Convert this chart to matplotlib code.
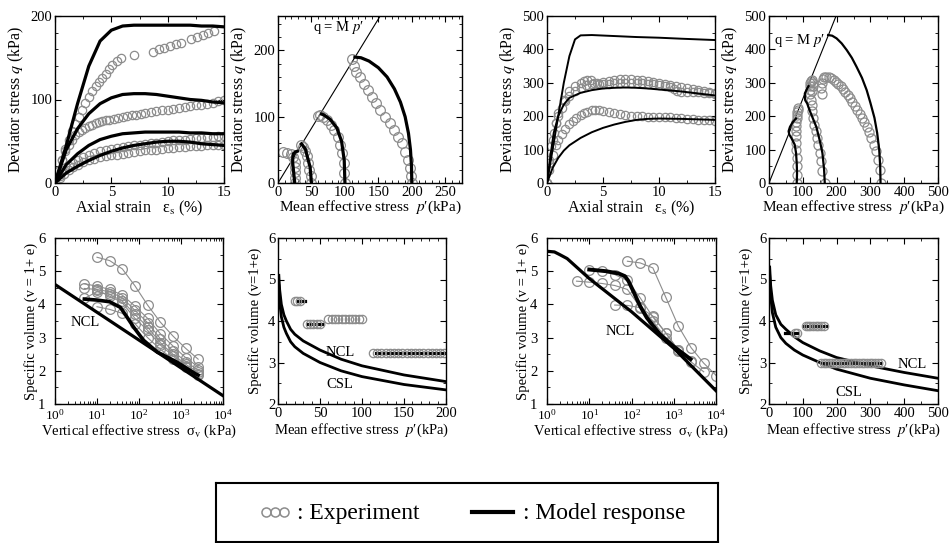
import matplotlib
matplotlib.use('Agg')
import matplotlib.pyplot as plt
from matplotlib.ticker import MultipleLocator, LogLocator, NullFormatter

plt.rcParams['font.family'] = ['Liberation Serif', 'DejaVu Serif']
plt.rcParams['mathtext.fontset'] = 'stix'
plt.rcParams['font.size'] = 10

GRAY = '#8c8c8c'

# ---------- panel 1: q vs axial strain (left soil) ----------
m1_x = [0, 1, 2, 3, 4, 5, 6, 7, 8, 9, 10, 11, 12, 13, 14, 15]
m1_200 = [0, 45, 95, 140, 170, 183, 188, 189, 189, 189, 189, 189, 189, 188, 188, 187]
m1_100 = [0, 40, 65, 83, 95, 102, 106, 107, 107, 106, 104, 102, 100, 99, 97, 96]
m1_50 = [0, 22, 35, 45, 52, 56, 59, 60, 61, 61, 61, 61, 60, 60, 59, 59]
m1_25 = [0, 12, 20, 27, 33, 38, 42, 45, 47, 49, 50, 50, 49, 47, 46, 45]

e1_200_x = [0, 0.3, 0.6, 0.9, 1.2, 1.5, 1.8, 2.1, 2.4, 2.7, 3.0, 3.3, 3.6, 3.9, 4.2, 4.5,
            4.8, 5.1, 5.5, 5.9, 7.0, 8.7, 9.2, 9.7, 10.2, 10.7, 11.2, 12.1, 12.6, 13.1, 13.6, 14.1]
e1_200_q = [0, 14, 28, 41, 52, 62, 71, 79, 88, 96, 103, 110, 116, 121, 126, 131,
            136, 141, 146, 150, 153, 157, 160, 162, 164, 166, 168, 172, 175, 177, 180, 182]
e1_100_x = [0, 0.3, 0.6, 0.9, 1.2, 1.5, 1.8, 2.1, 2.4, 2.7, 3.0, 3.3, 3.6, 3.9, 4.2, 4.5, 4.8,
            5.2, 5.6, 6.0, 6.4, 6.8, 7.2, 7.6, 8.0, 8.5, 9.0, 9.5, 10.0, 10.5, 11.0, 11.5,
            12.0, 12.5, 13.0, 13.5, 14.0, 14.5, 15.0]
e1_100_q = [0, 14, 27, 38, 46, 52, 57, 61, 64, 66, 68, 70, 72, 73, 74, 75, 76,
            77, 78, 79, 80, 81, 82, 83, 84, 85, 86, 87, 88, 89, 90, 91,
            92, 93, 94, 95, 96, 98, 99]
e1_lo_x = [0, 0.4, 0.8, 1.2, 1.6, 2.0, 2.5, 3.0, 3.5, 4.0, 4.5, 5.0, 5.5, 6.0, 6.5, 7.0,
           7.5, 8.0, 8.5, 9.0, 9.5, 10.0, 10.5, 11.0, 11.5, 12.0, 12.5, 13.0, 13.5, 14.0, 14.5, 15.0]
e1_50_q = [0, 8, 15, 20, 24, 28, 31, 34, 36, 38, 40, 41, 42, 43, 44, 45,
           46, 47, 48, 48, 49, 50, 51, 52, 52, 53, 54, 54, 55, 55, 56, 56]
e1_25_q = [0, 6, 11, 15, 19, 22, 25, 27, 29, 31, 32, 33, 34, 35, 36, 37,
           38, 39, 40, 40, 41, 42, 42, 43, 43, 44, 44, 44, 45, 45, 45, 46]

# ---------- panel 2: q vs p' (left soil) ----------
M_left = 1.65
m2_200_p = [200, 199.5, 198, 195, 190, 183, 174, 163, 150, 136, 124, 115]
m2_200_q = [0, 25, 50, 75, 100, 122, 142, 160, 174, 184, 189, 190]
m2_100_p = [100, 99, 95, 88, 78, 68, 65]
m2_100_q = [0, 34, 63, 83, 96, 103, 104]
m2_50_p = [50, 48, 44, 41, 36, 35]
m2_50_q = [0, 24, 39, 51, 58, 59]
m2_25_p = [25, 24, 23, 22, 22, 23, 26, 29]
m2_25_q = [0, 10, 20, 30, 38, 44, 47, 48]

e2_200_p = [200, 199, 197, 194, 190, 185, 180, 174, 168, 160, 153, 147, 141, 135, 128, 122, 117, 113, 110]
e2_200_q = [0, 10, 22, 35, 47, 60, 70, 80, 90, 100, 110, 120, 130, 140, 150, 160, 168, 177, 187]
e2_100_p = [100, 99, 98, 96, 93, 89, 84, 79, 73, 68, 63, 60]
e2_100_q = [0, 15, 30, 45, 58, 70, 80, 88, 95, 99, 102, 101]
e2_50_p = [50, 49, 47, 45, 43, 40, 37, 34]
e2_50_q = [0, 10, 20, 30, 40, 48, 54, 58]
e2_25_p = [25, 25, 26, 26, 25, 23, 19, 13, 8]
e2_25_q = [0, 8, 16, 24, 32, 39, 44, 46, 47]

# ---------- panel 3: q vs axial strain (right soil) ----------
m3_a_x = [0, 0.5, 1, 1.5, 2, 2.5, 3, 4, 6, 8, 10, 12, 15]
m3_a_q = [0, 100, 200, 300, 380, 430, 442, 443, 440, 437, 435, 432, 428]
m3_b_x = [0, 0.3, 0.6, 1, 1.5, 2, 3, 4, 5, 6, 7, 8, 9, 10, 11, 12, 13, 14, 15]
m3_b_q = [0, 80, 150, 200, 235, 255, 270, 278, 283, 285, 286, 285, 283, 280, 277, 274, 270, 266, 262]
m3_c_x = [0, 0.5, 1, 1.5, 2, 3, 4, 5, 6, 7, 8, 9, 10, 12, 15]
m3_c_q = [0, 45, 75, 97, 113, 135, 152, 165, 175, 183, 189, 192, 193, 192, 189]

e3_a_x = [0, 0.2, 0.4, 0.6, 0.8, 1, 1.3, 1.6, 2, 2.5, 3, 3.5, 4, 4.5, 5, 5.5, 6, 6.5, 7, 7.5,
          8, 8.5, 9, 9.5, 10, 10.5, 11, 11.5, 12, 12.5, 13, 13.5, 14, 14.5, 15]
e3_a_q = [0, 60, 110, 150, 180, 200, 225, 245, 260, 275, 285, 292, 297, 300, 303, 306, 309, 311, 312, 311,
          309, 307, 305, 302, 300, 297, 293, 289, 286, 283, 280, 277, 274, 272, 270]
e3_b_x = [0, 0.2, 0.5, 0.8, 1, 1.5, 2, 2.5, 3, 3.3, 3.6, 3.9, 4.2, 4.6, 5, 5.5, 6, 6.5, 7, 7.5, 8,
          8.5, 9, 9.5, 10, 10.5, 11, 11.3, 11.6, 12, 12.5, 13, 13.5, 14, 14.5, 15]
e3_b_q = [0, 70, 130, 180, 210, 250, 275, 290, 300, 304, 307, 308, 300, 295, 296, 297, 298, 299, 300, 300, 299,
          298, 296, 295, 293, 290, 287, 280, 274, 273, 272, 272, 271, 270, 268, 265]
e3_c_x = [0, 0.2, 0.5, 0.8, 1, 1.3, 1.6, 2, 2.3, 2.6, 3, 3.3, 3.6, 4, 4.3, 4.6, 5, 5.5, 6, 6.5, 7,
          7.5, 8, 8.5, 9, 9.5, 10, 10.5, 11, 11.5, 12, 12.5, 13, 13.5, 14, 14.5, 15]
e3_c_q = [0, 40, 85, 115, 130, 148, 163, 178, 187, 195, 205, 210, 214, 218, 220, 218, 215, 212, 209, 206, 203,
          201, 200, 200, 199, 199, 198, 198, 197, 196, 194, 193, 192, 190, 189, 188, 187]

# ---------- panel 4: q vs p' (right soil) ----------
M_right = 2.52
m4_330_p = [330, 329, 326, 320, 312, 300, 289, 275, 259, 245, 230, 215, 200, 187, 175]
m4_330_q = [0, 50, 100, 150, 195, 240, 278, 315, 348, 375, 398, 418, 433, 441, 443]
m4_165_p = [165, 163, 158, 150, 140, 128, 120, 113, 107, 106, 113, 117]
m4_165_q = [0, 40, 90, 128, 168, 198, 218, 238, 248, 268, 283, 290]
m4_82_p = [82, 83, 82, 80, 76, 66, 60, 58, 62, 70, 80]
m4_82_q = [0, 30, 60, 90, 115, 135, 145, 155, 168, 182, 193]

e4_330_p = [330, 327, 322, 316, 310, 303, 296, 289, 282, 275, 268, 261, 254, 247, 240, 233, 226, 219,
            212, 205, 198, 191, 184, 177, 170, 164, 159, 156, 155, 157]
e4_330_q = [0, 40, 70, 95, 115, 135, 152, 168, 182, 195, 208, 220, 232, 243, 253, 263, 272, 281,
            289, 296, 303, 309, 314, 317, 318, 316, 310, 300, 285, 265]
e4_165_p = [165, 157, 153, 150, 146, 142, 138, 134, 131, 128, 126, 124, 122, 121, 121, 122, 125, 128, 130, 131, 128]
e4_165_q = [0, 35, 65, 90, 115, 135, 155, 175, 195, 215, 235, 250, 265, 278, 290, 300, 305, 308, 300, 290, 275]
e4_82_p = [82, 83, 83, 82, 81, 80, 79, 79, 80, 81, 82, 83, 84, 85, 86]
e4_82_q = [0, 25, 50, 75, 100, 120, 140, 155, 170, 183, 195, 205, 213, 220, 225]

# ---------- panel 5: v vs log sigma_v (left soil) ----------
ncl5_s = [1, 10000]
ncl5_v = [4.6, 1.25]
m5_s = [5, 10, 20, 36, 51, 74, 128, 268, 800, 2200, 2560]
m5_v = [4.16, 4.13, 4.08, 3.91, 3.63, 3.32, 2.92, 2.57, 2.26, 1.91, 1.87]
e5_series = [
    ([10, 20, 40, 80, 160, 320, 640, 1280, 2560], [5.42, 5.32, 5.07, 4.56, 3.98, 3.47, 3.05, 2.68, 2.35]),
    ([5, 10, 20, 40, 80, 160, 320, 640, 1280, 2560], [4.62, 4.55, 4.45, 4.28, 3.95, 3.58, 3.12, 2.75, 2.4, 2.12]),
    ([5, 10, 20, 40, 80, 160, 320, 640, 1280, 2560], [4.48, 4.45, 4.38, 4.2, 3.82, 3.45, 2.97, 2.6, 2.28, 2.02]),
    ([5, 10, 20, 40, 80, 160, 320, 640, 1280, 2560], [4.18, 4.38, 4.3, 4.1, 3.7, 3.32, 2.85, 2.5, 2.2, 1.95]),
    ([10, 20, 40, 80, 160, 320, 640, 1280, 2560], [3.93, 3.85, 3.73, 3.42, 3.0, 2.65, 2.35, 2.1, 1.9]),
    ([10, 20, 40, 80, 160, 320, 640, 1280, 2560], [4.42, 4.25, 4.05, 3.58, 3.22, 2.78, 2.45, 2.15, 1.88]),
]

# ---------- panel 6: v vs p' (left soil) ----------
line6_p = [1, 2, 4, 7, 10, 15, 20, 30, 50, 75, 100, 150, 200]
ncl6_v = [5.1, 4.75, 4.4, 4.15, 4.0, 3.8, 3.68, 3.52, 3.3, 3.08, 2.92, 2.7, 2.54]
csl6_v = [4.85, 4.45, 4.1, 3.85, 3.7, 3.5, 3.38, 3.22, 3.0, 2.8, 2.66, 2.47, 2.34]
e6_strips = [
    ([20, 23, 26], [4.47, 4.47, 4.47]),
    ([34, 38, 42, 46, 50], [3.93, 3.93, 3.93, 3.93, 3.93]),
    ([60, 64, 68, 72, 76, 80, 84, 88, 92, 96, 100], [4.04] * 11),
    ([113, 118, 123, 128, 133, 138, 143, 148, 153, 158, 163, 168, 173, 178, 183, 188, 193, 198],
     [3.22] * 18),
]
m6_strips = [([23, 32], [4.47, 4.47]), ([36, 53], [3.93, 3.93]), ([117, 200], [3.22, 3.22])]

# ---------- panel 7: v vs log sigma_v (right soil) ----------
ncl7_s = [1, 1.5, 2, 3, 10, 100, 1000, 10000]
ncl7_v = [5.6, 5.58, 5.5, 5.38, 4.78, 3.78, 2.68, 1.4]
m7_s = [10, 25, 50, 70, 85, 110, 160, 230, 470, 960, 2500]
m7_v = [5.05, 5.0, 4.93, 4.85, 4.7, 4.4, 3.95, 3.6, 3.1, 2.75, 2.35]
e7_series = [
    ([80, 160, 320, 640, 1280, 2560, 5120, 10240], [5.3, 5.25, 5.1, 4.23, 3.35, 2.7, 2.23, 1.85]),
    ([10, 20, 40, 80, 160, 320, 640, 1280, 2560], [5.03, 5.0, 4.9, 4.72, 4.2, 3.62, 3.15, 2.62, 2.3]),
    ([5, 10, 20, 40, 80, 160, 320, 640, 1280, 2560, 5120], [4.7, 4.67, 4.63, 4.57, 4.45, 3.92, 3.5, 3.0, 2.6, 2.27, 1.97]),
    ([40, 80, 160, 320, 640, 1280], [3.98, 3.97, 3.9, 3.65, 3.15, 2.62]),
]

# ---------- panel 8: v vs p' (right soil) ----------
line8_p = [2, 5, 10, 20, 35, 50, 75, 100, 150, 200, 300, 400, 500]
ncl8_v = [5.3, 4.85, 4.5, 4.15, 3.92, 3.8, 3.62, 3.48, 3.28, 3.12, 2.92, 2.76, 2.62]
csl8_v = [5.1, 4.6, 4.2, 3.85, 3.6, 3.46, 3.3, 3.18, 3.0, 2.84, 2.62, 2.46, 2.32]
e8_strips = [
    ([78, 84], [3.72, 3.72]),
    ([108, 115, 122, 130, 138, 146, 154, 162], [3.87] * 8),
    ([155, 162, 170, 178, 186, 194, 202, 210, 218, 226, 234, 242, 250, 258, 266, 274, 282, 290,
      298, 306, 314, 322, 330], [3.0] * 23),
]
m8_strips = [([47, 83], [3.70, 3.70]), ([105, 168], [3.87, 3.87]), ([160, 330], [3.0, 3.0])]

W, H = 949, 543
fig = plt.figure(figsize=(W / 100, H / 100), dpi=100)

PP = r"$\mathit{p}$′"   # p-prime, italic p
XL_STRAIN = r'Axial strain   ε$_\mathrm{s}$ (%)'
XL_P = 'Mean effective stress  ' + PP + '(kPa)'
XL_SIG = r'Vertical effective stress  σ$_\mathrm{v}$ (kPa)'
YL_Q = r'Deviator stress $q$ (kPa)'


def box(l, t, r, b):
    return fig.add_axes([l / W, 1 - b / H, (r - l) / W, (b - t) / H])


def style(ax, xmaj=None, xmin=None, ymaj=None, ymin=None):
    for s in ax.spines.values():
        s.set_linewidth(1.0)
    if xmaj:
        ax.xaxis.set_major_locator(MultipleLocator(xmaj))
        ax.xaxis.set_minor_locator(MultipleLocator(xmin))
    if ymaj:
        ax.yaxis.set_major_locator(MultipleLocator(ymaj))
        ax.yaxis.set_minor_locator(MultipleLocator(ymin))
    ax.tick_params(which='both', direction='in', top=True, right=True, labelsize=10.5, pad=2)
    ax.tick_params(which='major', length=4, width=0.8)
    ax.tick_params(which='minor', length=2.2, width=0.6)


def exp(ax, x, y, ms=6, ls='none'):
    ax.plot(x, y, linestyle=ls, color=GRAY, lw=0.8, marker='o', ms=ms, mfc='none', mec=GRAY, mew=0.9)


def logstyle(ax):
    ax.set_xscale('log')
    ax.set_xlim(1, 1e4)
    ax.set_ylim(1, 6)
    ax.xaxis.set_major_locator(LogLocator(base=10, numticks=10))
    ax.xaxis.set_minor_locator(LogLocator(base=10, subs=range(2, 10), numticks=50))
    ax.xaxis.set_minor_formatter(NullFormatter())
    style(ax, ymaj=1, ymin=0.5)
    ax.tick_params(axis='x', which='major', pad=3, labelsize=9.5)
    ax.tick_params(axis='y', which='major', pad=7)


# panel 1
ax = box(55, 16, 224, 183)
exp(ax, e1_200_x, e1_200_q)
exp(ax, e1_100_x, e1_100_q)
exp(ax, e1_lo_x, e1_50_q)
exp(ax, e1_lo_x, e1_25_q)
for q in [m1_200, m1_100, m1_50, m1_25]:
    ax.plot(m1_x, q, color='black', lw=2.3)
ax.set_xlim(0, 15)
ax.set_ylim(0, 200)
style(ax, 5, 2.5, 100, 20)
ax.set_xlabel(XL_STRAIN, fontsize=11.5, labelpad=0)
ax.set_ylabel(YL_Q, fontsize=11.5, labelpad=3)

# panel 2
ax = box(278, 16, 462, 183)
ax.axline((0, 0), slope=M_left, color='black', lw=0.8)
for p, q in [(e2_200_p, e2_200_q), (e2_100_p, e2_100_q), (e2_50_p, e2_50_q), (e2_25_p, e2_25_q)]:
    exp(ax, p, q, ms=7)
for p, q in [(m2_200_p, m2_200_q), (m2_100_p, m2_100_q), (m2_50_p, m2_50_q), (m2_25_p, m2_25_q)]:
    ax.plot(p, q, color='black', lw=2.3)
ax.text(52, 235, 'q = M ' + PP, fontsize=10.5, va='center')
ax.set_xlim(0, 275)
ax.set_ylim(0, 252)
style(ax, 50, 10, 100, 20)
ax.set_xlabel(XL_P, fontsize=11, labelpad=0)
ax.set_ylabel(YL_Q, fontsize=11.5, labelpad=3)

# panel 3
ax = box(547, 16, 715, 183)
for x, q in [(e3_a_x, e3_a_q), (e3_b_x, e3_b_q), (e3_c_x, e3_c_q)]:
    exp(ax, x, q, ms=6)
for x, q in [(m3_a_x, m3_a_q), (m3_b_x, m3_b_q), (m3_c_x, m3_c_q)]:
    ax.plot(x, q, color='black', lw=1.4)
ax.set_xlim(0, 15)
ax.set_ylim(0, 500)
style(ax, 5, 2.5, 100, 50)
ax.set_xlabel(XL_STRAIN, fontsize=11.5, labelpad=0)
ax.set_ylabel(YL_Q, fontsize=11.5, labelpad=3)

# panel 4
ax = box(769, 16, 938, 183)
ax.axline((0, 0), slope=M_right, color='black', lw=0.8)
for p, q in [(e4_330_p, e4_330_q), (e4_165_p, e4_165_q), (e4_82_p, e4_82_q)]:
    exp(ax, p, q, ms=6.5)
for p, q in [(m4_330_p, m4_330_q), (m4_165_p, m4_165_q), (m4_82_p, m4_82_q)]:
    ax.plot(p, q, color='black', lw=1.6)
ax.text(15, 428, 'q = M ' + PP, fontsize=10.5, va='center')
ax.set_xlim(0, 500)
ax.set_ylim(0, 500)
style(ax, 100, 50, 100, 50)
ax.set_xlabel(XL_P, fontsize=11, labelpad=0)
ax.set_ylabel(YL_Q, fontsize=11.5, labelpad=3)

# panel 5
ax = box(55, 238, 223, 404)
for s, v in e5_series:
    exp(ax, s, v, ms=7, ls='-')
ax.plot(ncl5_s, ncl5_v, color='black', lw=2.3)
ax.plot(m5_s, m5_v, color='black', lw=2.6)
ax.text(5.2, 3.45, 'NCL', fontsize=10.5, ha='center', va='center')
logstyle(ax)
ax.set_xlabel(XL_SIG, fontsize=10.5, labelpad=0)
ax.set_ylabel('Specific volume (v = 1+ e)', fontsize=10.5, labelpad=0)

# panel 6
ax = box(278, 238, 446, 404)
ax.plot(line6_p, ncl6_v, color='black', lw=2.0)
ax.plot(line6_p, csl6_v, color='black', lw=2.0)
for p, v in m6_strips:
    ax.plot(p, v, color='black', lw=2.3)
for p, v in e6_strips:
    exp(ax, p, v, ms=6)
ax.text(74, 3.25, 'NCL', fontsize=10.5, ha='center', va='center')
ax.text(74, 2.47, 'CSL', fontsize=10.5, ha='center', va='center')
ax.set_xlim(0, 200)
ax.set_ylim(2, 6)
style(ax, 50, 10, 1, 0.5)
ax.set_xlabel(XL_P, fontsize=10.5, labelpad=1)
ax.set_ylabel('Specific volume (v=1+e)', fontsize=10.5, labelpad=4)

# panel 7
ax = box(547, 238, 716, 404)
for s, v in e7_series:
    exp(ax, s, v, ms=7, ls='-')
ax.plot(ncl7_s, ncl7_v, color='black', lw=2.3)
ax.plot(m7_s, m7_v, color='black', lw=2.8)
ax.text(54, 3.17, 'NCL', fontsize=10.5, ha='center', va='center')
logstyle(ax)
ax.set_xlabel(XL_SIG, fontsize=10.5, labelpad=0)
ax.set_ylabel('Specific volume (v = 1+ e)', fontsize=10.5, labelpad=0)

# panel 8
ax = box(769, 238, 938, 404)
ax.plot(line8_p, ncl8_v, color='black', lw=2.0)
ax.plot(line8_p, csl8_v, color='black', lw=2.0)
for p, v in m8_strips:
    ax.plot(p, v, color='black', lw=2.3)
for p, v in e8_strips:
    exp(ax, p, v, ms=6)
ax.text(423, 2.94, 'NCL', fontsize=10.5, ha='center', va='center')
ax.text(235, 2.28, 'CSL', fontsize=10.5, ha='center', va='center')
ax.set_xlim(0, 500)
ax.set_ylim(2, 6)
style(ax, 100, 50, 1, 0.5)
ax.set_xlabel(XL_P, fontsize=10.5, labelpad=1)
ax.set_ylabel('Specific volume (v=1+e)', fontsize=10.5, labelpad=4)

# legend box (pixel coordinates inside the box)
lg = box(216, 483, 718, 542)
lg.set_xlim(0, 502)
lg.set_ylim(0, 59)
lg.set_xticks([])
lg.set_yticks([])
for s in lg.spines.values():
    s.set_linewidth(1.5)
lg.plot([50, 59, 68], [30, 30, 30], linestyle='none', marker='o', ms=6.5, mfc='none', mec=GRAY, mew=1.1)
lg.text(81, 29, ': Experiment', fontsize=17, va='center')
lg.plot([256, 297], [30, 30], color='black', lw=3)
lg.text(307, 29, ': Model response', fontsize=17, va='center')

fig.savefig('out.png', dpi=100)
